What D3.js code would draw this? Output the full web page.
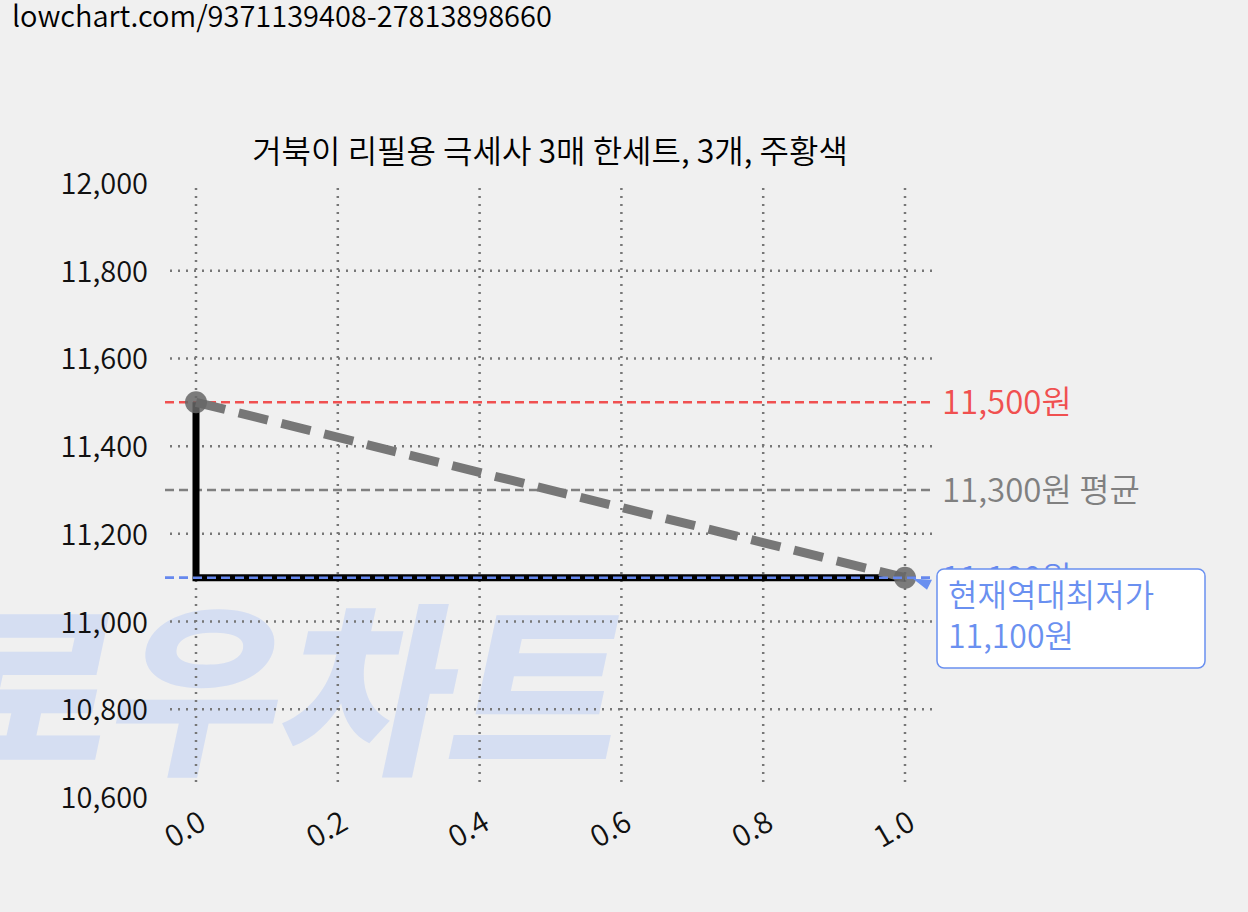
<!DOCTYPE html><html><head><meta charset="utf-8"><script src="https://cdn.jsdelivr.net/npm/d3@7"></script>
<style>body{margin:0;background:#f0f0f0;font-family:"Noto Sans CJK KR",sans-serif}</style></head><body>
<svg id="c" width="1248" height="912"></svg>
<script>
const xs=[0,1];
const prices=[11500,11100];
const yTicks=[10600,10800,11000,11200,11400,11600,11800,12000];
const xTicks=[0,0.2,0.4,0.6,0.8,1.0];
const maxP=11500,avgP=11300,minP=11100;
const svg=d3.select("#c");
const F='"Noto Sans CJK KR",sans-serif';
const W=350;
svg.append("text").attr("x",12).attr("y",27).attr("font-size",29).attr("font-weight",W).attr("font-family",F).attr("fill","#000").text("lowchart.com/9371139408-27813898660");
const x=d3.scaleLinear().domain([0,1]).range([196,905]);
const y=d3.scaleLinear().domain([10600,12000]).range([797,183]);
svg.append("text").attr("transform","translate(612,760) skewX(-12)").attr("text-anchor","end")
 .attr("font-size",185).attr("font-weight",900).attr("font-family",F).attr("fill","#d5def2").text("로우차트");
const g=svg.append("g");
yTicks.forEach(t=>{ if(t>10600&&t<12000) g.append("line").attr("x1",170).attr("x2",935).attr("y1",y(t)).attr("y2",y(t)).attr("stroke","#777").attr("stroke-width",2.5).attr("stroke-dasharray","2,6");});
xTicks.forEach(t=>g.append("line").attr("x1",x(t)).attr("x2",x(t)).attr("y1",188).attr("y2",785).attr("stroke","#777").attr("stroke-width",2.5).attr("stroke-dasharray","2,6"));
yTicks.forEach(t=>svg.append("text").attr("x",148).attr("y",y(t)+11).attr("text-anchor","end").attr("font-size",29).attr("font-weight",W).attr("font-family",F).attr("fill","#111").text(d3.format(",")(t)));
xTicks.forEach(t=>svg.append("text").attr("transform",`translate(${x(t)+12},${828}) rotate(-30)`).attr("text-anchor","end").attr("font-size",30).attr("font-weight",W).attr("font-family",F).attr("fill","#111").text(t.toFixed(1)));
svg.append("text").attr("x",550).attr("y",163).attr("text-anchor","middle").attr("font-size",32).attr("font-weight",W).attr("font-family",F).attr("fill","#000").text("거북이 리필용 극세사 3매 한세트, 3개, 주황색");
const refs=[[maxP,"#f05050",d3.format(",")(maxP)+"원"],[avgP,"#808080",d3.format(",")(avgP)+"원 평균"],[minP,"#6688ee",d3.format(",")(minP)+"원"]];
refs.forEach(([v,c,l])=>{svg.append("line").attr("x1",165).attr("x2",935).attr("y1",y(v)).attr("y2",y(v)).attr("stroke",c).attr("stroke-width",2.5).attr("stroke-dasharray","9,5");
 svg.append("text").attr("x",942).attr("y",y(v)+12).attr("font-size",33).attr("font-weight",W).attr("font-family",F).attr("fill",c).text(l);});
svg.append("path").attr("d",`M${x(xs[0])},${y(prices[0])}V${y(prices[1])}H${x(xs[1])}`).attr("fill","none").attr("stroke","#000").attr("stroke-width",7);
svg.append("line").attr("x1",x(xs[0])).attr("y1",y(prices[0])).attr("x2",x(xs[1])).attr("y2",y(prices[1])).attr("stroke","#777").attr("stroke-width",9).attr("stroke-dasharray","30,14");
xs.forEach((v,i)=>svg.append("circle").attr("cx",x(v)).attr("cy",y(prices[i])).attr("r",11).attr("fill","#666").attr("opacity",0.85));
svg.append("line").attr("x1",165).attr("x2",935).attr("y1",y(minP)).attr("y2",y(minP)).attr("stroke","#6688ee").attr("stroke-width",2.5).attr("stroke-dasharray","9,5");
svg.append("rect").attr("x",937).attr("y",569).attr("width",268).attr("height",99).attr("rx",7).attr("fill","#fff").attr("stroke","#6a90f0").attr("stroke-width",1.5);
svg.append("path").attr("d",`M${x(1)+27},${y(minP)+2}L${x(1)+8},${y(minP)+1}L${x(1)+22},${y(minP)+12}Z`).attr("fill","#6a90f0");
svg.append("text").attr("x",948).attr("y",607).attr("font-size",32).attr("font-weight",W).attr("font-family",F).attr("fill","#6a90f0").text("현재역대최저가");
svg.append("text").attr("x",948).attr("y",648).attr("font-size",32).attr("font-weight",W).attr("font-family",F).attr("fill","#6a90f0").text(d3.format(",")(minP)+"원");
</script></body></html>
